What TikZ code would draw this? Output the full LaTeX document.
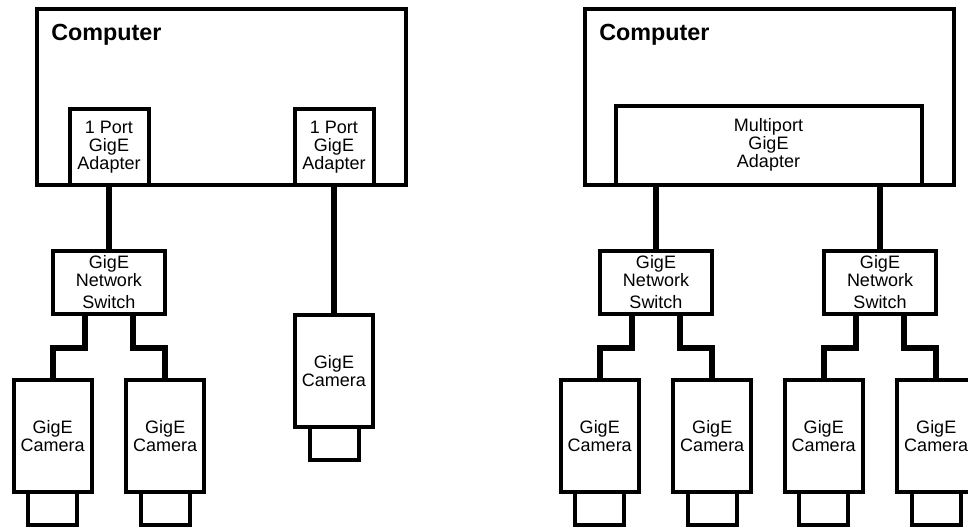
\documentclass[tikz,border=0pt]{standalone}
\usepackage{fontspec}
\setmainfont{Liberation Sans}
\usetikzlibrary{calc}

\begin{document}
\begin{tikzpicture}[x=0.75pt,y=0.75pt,yscale=-1,xscale=1,
  unit/.style={draw, line width=3pt, fill=white, rectangle, outer sep=0pt, inner sep=0pt, align=center, font=\fontsize{13.5}{13.5}\selectfont},
  pcbox/.style={unit, minimum width=276.75pt, minimum height=132pt},
  adapter/.style={unit, minimum width=59.25pt, minimum height=57pt},
  multiport/.style={unit, minimum width=229.5pt, minimum height=59.6pt},
  switchbox/.style={unit, minimum width=84.4pt, minimum height=47.25pt},
  camera/.style={unit, minimum width=58.5pt, minimum height=84pt},
  lens/.style={unit, minimum width=36.75pt, minimum height=24.75pt, anchor=north},
  pctitle/.style={anchor=base west, inner sep=0pt, font=\fontsize{17.5}{17.5}\selectfont\bfseries},
  cable/.style={line width=4.5pt}
]
%set diagram area 968 x 528
\clip (0,0) rectangle (968,528);

%Shape: Rectangle [computer, single port adapters]
\node[pcbox] (pcA) at (221.5,97) {};
% Text Node
\node[pctitle] (titleA) at (51,41) {Computer};
\node[adapter] (adA1) at (109,147) {1 Port\\GigE\\Adapter};
\node[adapter] (adA2) at (334,147) {1 Port\\GigE\\Adapter};

%Shape: Rectangle [switch]
\node[switchbox] (swA) at (109,282.5) {GigE\\Network\\[3pt]Switch};

%Shape: Rectangle [cameras]
\node[camera] (camA1) at (52.75,435.75) {GigE\\Camera};
\node[camera] (camA2) at (165.25,435.75) {GigE\\Camera};
\node[camera] (camA3) at (334,371) {GigE\\Camera};
\node[lens] (lensA1) at (camA1.south) {};
\node[lens] (lensA2) at (camA2.south) {};
\node[lens] (lensA3) at (camA3.south) {};

%Straight Lines [cables]
\draw[cable] (adA1.south) -- (swA.north);
\draw[cable] (adA2.south) -- (camA3.north);
\draw[cable] ($(swA.south)+(-24,0)$) -- ++(0,34) -| (camA1.north);
\draw[cable] ($(swA.south)+(24,0)$) -- ++(0,34) -| (camA2.north);

%Shape: Rectangle [computer, multiport adapter]
\node[pcbox] (pcB) at (769.75,97) {};
% Text Node
\node[pctitle] (titleB) at (599,41) {Computer};
\node[multiport] (mpB) at (768.5,145.25) {Multiport\\GigE\\Adapter};

%Shape: Rectangle [switches]
\node[switchbox] (swB1) at (656,282.5) {GigE\\Network\\[3pt]Switch};
\node[switchbox] (swB2) at (880,282.5) {GigE\\Network\\[3pt]Switch};

%Shape: Rectangle [cameras]
\node[camera] (camB1) at (599.75,435.75) {GigE\\Camera};
\node[camera] (camB2) at (712.25,435.75) {GigE\\Camera};
\node[camera] (camB3) at (823.75,435.75) {GigE\\Camera};
\node[camera] (camB4) at (936.25,435.75) {GigE\\Camera};
\node[lens] (lensB1) at (camB1.south) {};
\node[lens] (lensB2) at (camB2.south) {};
\node[lens] (lensB3) at (camB3.south) {};
\node[lens] (lensB4) at (camB4.south) {};

%Straight Lines [cables]
\draw[cable] (swB1.north) -- (swB1.north |- mpB.south);
\draw[cable] (swB2.north) -- (swB2.north |- mpB.south);
\draw[cable] ($(swB1.south)+(-24,0)$) -- ++(0,34) -| (camB1.north);
\draw[cable] ($(swB1.south)+(24,0)$) -- ++(0,34) -| (camB2.north);
\draw[cable] ($(swB2.south)+(-24,0)$) -- ++(0,34) -| (camB3.north);
\draw[cable] ($(swB2.south)+(24,0)$) -- ++(0,34) -| (camB4.north);

\end{tikzpicture}
\end{document}
